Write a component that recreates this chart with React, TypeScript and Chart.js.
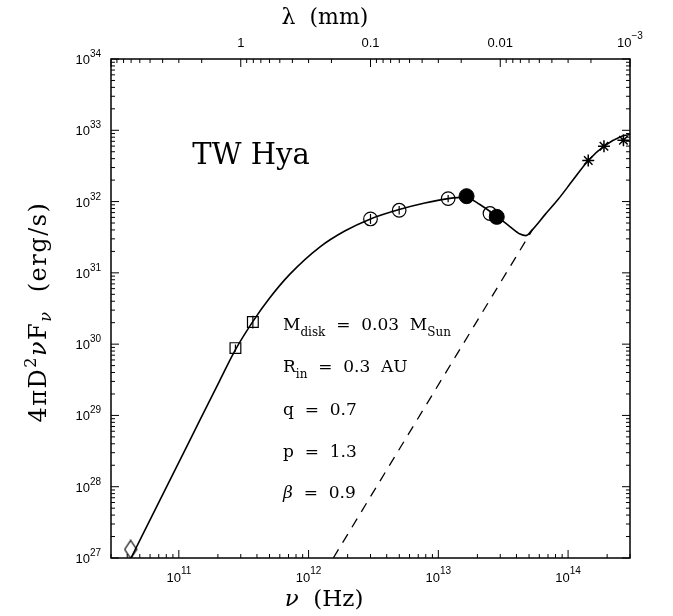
import { useEffect, useRef } from "react";
import { Chart, registerables } from "chart.js";

Chart.register(...registerables);

// ---- Data ----
// Disk + star model SED (solid line)
const modelNu = [4.28e10, 7.1e10, 1.21e11, 2.062e11, 2.725e11, 3.725e11, 5.01e11, 7.15e11, 1.219e12, 1.9e12, 3.0e12, 4.99e12, 7.87e12, 1.19e13, 1.6e13, 2.09e13, 2.83e13, 3.56e13, 4.26e13, 4.74e13, 5.27e13, 6.64e13, 8.36e13, 1.09e14, 1.432e14, 1.893e14, 2.59e14, 3.0e14];
const modelF = [1.0e27, 6.32e27, 4.4e28, 3.06e29, 8.32e29, 2.09e30, 4.44e30, 9.53e30, 2.3e31, 3.86e31, 5.71e31, 7.73e31, 9.53e31, 1.1e32, 1.156e32, 9.08e31, 6.15e31, 4.46e31, 3.5e31, 3.33e31, 3.98e31, 6.56e31, 1.067e32, 2.0e32, 3.77e32, 5.98e32, 8.26e32, 8.73e32];
// Stellar photosphere (dashed line)
const photoNu = [1.55e12, 5.3e13];
const photoF = [1.0e27, 4.0e31];
// Observations
const diamondNu = [4.25e10];
const diamondF = [1.32e27];
const squareNu = [2.73e11, 3.72e11];
const squareF = [8.8e29, 2.04e30];
const squareErr = [0.05, 0.09]; // dex
const openNu = [3.0e12, 4.99e12, 1.19e13, 2.5e13];
const openF = [5.7e31, 7.55e31, 1.1e32, 6.8e31];
const openErr = [0.07, 0.06, 0.05, 0.04]; // dex
const filledNu = [1.65e13, 2.82e13];
const filledF = [1.19e32, 6.1e31];
const starNu = [1.43e14, 1.89e14, 2.67e14];
const starF = [3.77e32, 5.98e32, 7.26e32];

// Axes
const X_MIN = 3e10;
const X_MAX = 3e14;
const Y_MIN = 1e27;
const Y_MAX = 1e34;
const xMajorExp = [11, 12, 13, 14];
const yMajorExp = [27, 28, 29, 30, 31, 32, 33, 34];
const C_MM = 3e11; // speed of light in mm/s
const lambdaMajor = [1, 0.1, 0.01, 0.001];
const lambdaLabels = ["1", "0.1", "0.01", "10^−3"];

const SERIF = '"DejaVu Serif", serif';
const SANS = '"Liberation Sans", Arial, sans-serif';

type Part = { t: string; size: number; dy?: number; italic?: boolean; bold?: boolean };

function partFont(p: Part, fam: string) {
  return `${p.italic ? "italic " : ""}${p.bold ? "bold " : ""}${p.size}px ${fam}`;
}
function drawRich(ctx: CanvasRenderingContext2D, parts: Part[], x: number, y: number, align: "left" | "center" | "right", fam: string) {
  let w = 0;
  for (const p of parts) {
    ctx.font = partFont(p, fam);
    w += ctx.measureText(p.t).width;
  }
  let cx = align === "left" ? x : align === "center" ? x - w / 2 : x - w;
  ctx.textAlign = "left";
  ctx.textBaseline = "alphabetic";
  for (const p of parts) {
    ctx.font = partFont(p, fam);
    ctx.fillText(p.t, cx, y + (p.dy ?? 0));
    cx += ctx.measureText(p.t).width;
  }
}
function powParts(label: string, base: number, exp: number, dy: number): Part[] {
  if (label.indexOf("^") < 0) return [{ t: label, size: base }];
  const [b, e] = label.split("^");
  return [
    { t: b, size: base },
    { t: e, size: exp, dy: -dy },
  ];
}

function pts(xs: number[], ys: number[]) {
  return xs.map((x, i) => ({ x, y: ys[i] }));
}

function diamondCanvas(w: number, h: number) {
  const c = document.createElement("canvas");
  c.width = w + 2;
  c.height = h + 2;
  const g = c.getContext("2d")!;
  g.strokeStyle = "#000";
  g.lineWidth = 1.2;
  g.beginPath();
  g.moveTo(c.width / 2, 1);
  g.lineTo(c.width - 1, c.height / 2);
  g.lineTo(c.width / 2, c.height - 1);
  g.lineTo(1, c.height / 2);
  g.closePath();
  g.stroke();
  return c;
}

const framePlugin = {
  id: "framePlugin",
  afterDraw(chart: any) {
    const ctx: CanvasRenderingContext2D = chart.ctx;
    const xs = chart.scales.x;
    const ys = chart.scales.y;
    const { left, right, top, bottom } = chart.chartArea;
    ctx.save();
    ctx.fillStyle = "#000";
    ctx.strokeStyle = "#000";

    // error bars
    ctx.lineWidth = 1.2;
    const errBars = (nu: number[], f: number[], err: number[]) => {
      nu.forEach((v, i) => {
        const px = xs.getPixelForValue(v);
        const y1 = ys.getPixelForValue(f[i] * Math.pow(10, -err[i]));
        const y2 = ys.getPixelForValue(f[i] * Math.pow(10, err[i]));
        ctx.beginPath();
        ctx.moveTo(px, y1);
        ctx.lineTo(px, y2);
        ctx.stroke();
      });
    };
    errBars(squareNu, squareF, squareErr);
    errBars(openNu, openF, openErr);

    // frame
    ctx.lineWidth = 1.5;
    ctx.strokeRect(left, top, right - left, bottom - top);

    // ticks
    ctx.lineWidth = 1;
    const line = (x1: number, y1: number, x2: number, y2: number) => {
      ctx.beginPath();
      ctx.moveTo(x1, y1);
      ctx.lineTo(x2, y2);
      ctx.stroke();
    };
    for (let e = 10; e <= 14; e++) {
      for (let m = 1; m <= 9; m++) {
        const v = m * Math.pow(10, e);
        if (v < X_MIN || v > X_MAX) continue;
        const px = xs.getPixelForValue(v);
        line(px, bottom, px, bottom - (m === 1 ? 8 : 4));
      }
    }
    for (let e = -3; e <= 1; e++) {
      for (let m = 1; m <= 9; m++) {
        const lam = m * Math.pow(10, e);
        const v = C_MM / lam;
        if (v < X_MIN * 0.999 || v > X_MAX * 1.001) continue;
        const px = xs.getPixelForValue(v);
        line(px, top, px, top + (m === 1 ? 8 : 4));
      }
    }
    for (let e = 27; e <= 34; e++) {
      for (let m = 1; m <= 9; m++) {
        const v = m * Math.pow(10, e);
        if (v < Y_MIN || v > Y_MAX) continue;
        const py = ys.getPixelForValue(v);
        const len = m === 1 ? 8 : 4;
        line(left, py, left + len, py);
        line(right, py, right - len, py);
      }
    }

    // tick labels
    xMajorExp.forEach((e) => {
      const px = xs.getPixelForValue(Math.pow(10, e));
      drawRich(ctx, powParts("10^" + e, 13, 10, 8), px, bottom + 24, "center", SANS);
    });
    yMajorExp.forEach((e) => {
      const py = ys.getPixelForValue(Math.pow(10, e));
      drawRich(ctx, powParts("10^" + e, 13, 10, 7), left - 10, py + 5, "right", SANS);
    });
    lambdaMajor.forEach((lam, i) => {
      const px = xs.getPixelForValue(C_MM / lam);
      drawRich(ctx, powParts(lambdaLabels[i], 13, 10, 8), px, top - 12, "center", SANS);
    });

    // axis titles
    drawRich(ctx, [{ t: "λ", size: 22 }, { t: "  (mm)", size: 22 }], 325, 24, "center", SERIF);
    drawRich(ctx, [{ t: "ν", size: 23, italic: true }, { t: "  (Hz)", size: 23 }], 324, 606, "center", SERIF);
    ctx.save();
    ctx.translate(46, 312);
    ctx.rotate(-Math.PI / 2);
    (ctx as any).letterSpacing = "1.5px";
    drawRich(
      ctx,
      [
        { t: "4πD", size: 24 },
        { t: "2", size: 16, dy: -10 },
        { t: "ν", size: 24, italic: true },
        { t: "F", size: 24 },
        { t: "ν", size: 16, dy: 5, italic: true },
        { t: "  (erg/s)", size: 24 },
      ],
      0,
      0,
      "center",
      SERIF
    );
    (ctx as any).letterSpacing = "0px";
    ctx.restore();

    // annotations
    drawRich(ctx, [{ t: "TW Hya", size: 29 }], 251, 164, "center", SERIF);
    const ax = 283;
    const fs = 17;
    const ss = 12;
    drawRich(ctx, [{ t: "M", size: fs }, { t: "disk", size: ss, dy: 6 }, { t: "  =  0.03  M", size: fs }, { t: "Sun", size: ss, dy: 6 }], ax, 330, "left", SERIF);
    drawRich(ctx, [{ t: "R", size: fs }, { t: "in", size: ss, dy: 6 }, { t: "  =  0.3  AU", size: fs }], ax, 372, "left", SERIF);
    drawRich(ctx, [{ t: "q  =  0.7", size: fs }], ax, 415, "left", SERIF);
    drawRich(ctx, [{ t: "p  =  1.3", size: fs }], ax, 457, "left", SERIF);
    drawRich(ctx, [{ t: "β", size: fs, italic: true }, { t: "  =  0.9", size: fs }], ax, 498, "left", SERIF);

    ctx.restore();
  },
};

export default function App() {
  const ref = useRef<HTMLCanvasElement | null>(null);
  useEffect(() => {
    document.body.style.margin = "0";
    const canvas = ref.current;
    if (!canvas) return;
    const diamond = diamondCanvas(12, 18);
    const chart = new Chart(canvas, {
      type: "scatter",
      data: {
        datasets: [
          {
            label: "filled",
            data: pts(filledNu, filledF),
            pointStyle: "circle",
            pointRadius: 7.5,
            pointBackgroundColor: "#000",
            pointBorderColor: "#000",
            pointBorderWidth: 1,
            showLine: false,
            order: 1,
          },
          {
            label: "open",
            data: pts(openNu, openF),
            pointStyle: "circle",
            pointRadius: 6.8,
            pointBackgroundColor: "rgba(0,0,0,0)",
            pointBorderColor: "#000",
            pointBorderWidth: 1.2,
            showLine: false,
            order: 2,
          },
          {
            label: "squares",
            data: pts(squareNu, squareF),
            pointStyle: "rect",
            pointRadius: 7.6,
            pointBackgroundColor: "rgba(0,0,0,0)",
            pointBorderColor: "#000",
            pointBorderWidth: 1.2,
            showLine: false,
            order: 3,
          },
          {
            label: "diamond",
            data: pts(diamondNu, diamondF),
            pointStyle: diamond as any,
            pointRadius: 9,
            showLine: false,
            order: 4,
          },
          {
            label: "stars",
            data: pts(starNu, starF),
            pointStyle: "star",
            pointRadius: 6,
            pointBorderColor: "#000",
            pointBorderWidth: 1.5,
            showLine: false,
            order: 5,
          },
          {
            label: "photosphere",
            data: pts(photoNu, photoF),
            showLine: true,
            borderColor: "#000",
            borderWidth: 1.3,
            borderDash: [10, 8],
            pointRadius: 0,
            order: 9,
          },
          {
            label: "model",
            data: pts(modelNu, modelF),
            showLine: true,
            borderColor: "#000",
            borderWidth: 1.6,
            pointRadius: 0,
            cubicInterpolationMode: "monotone",
            order: 10,
          },
        ],
      },
      options: {
        animation: false,
        responsive: false,
        maintainAspectRatio: false,
        layout: { padding: { left: 111, top: 59, right: 43, bottom: 58 } },
        scales: {
          x: { type: "logarithmic", min: X_MIN, max: X_MAX, display: false },
          y: { type: "logarithmic", min: Y_MIN, max: Y_MAX, display: false },
        },
        plugins: { legend: { display: false }, tooltip: { enabled: false } },
      },
      plugins: [framePlugin],
    });
    return () => chart.destroy();
  }, []);
  return <canvas ref={ref} width={673} height={616} style={{ display: "block" }} />;
}
